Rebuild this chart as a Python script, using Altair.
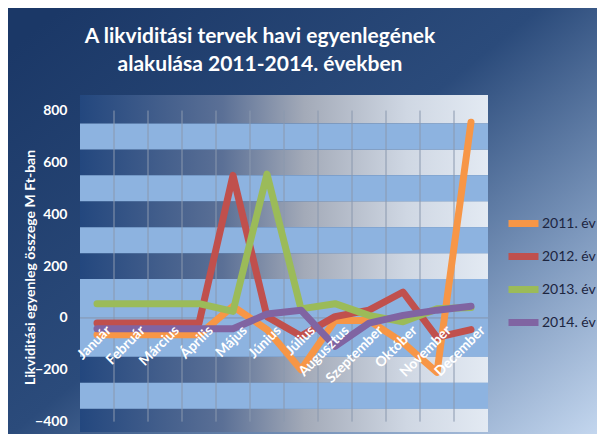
import altair as alt
import pandas as pd

months = ["Január", "Február", "Március", "Április", "Május", "Június",
          "Július", "Augusztus", "Szeptember", "Október", "November", "December"]
series_names = ["2011. év", "2012. év", "2013. év", "2014. év"]
y2011 = [-65, -65, -65, -65, 45, -45, -200, -10, -10, -95, -210, 755]
y2012 = [-20, -20, -20, -20, 550, 5, -70, 5, 30, 100, -75, -45]
y2013 = [55, 55, 55, 55, 25, 555, 35, 55, 10, -15, 35, 40]
y2014 = [-42, -42, -42, -42, -42, 15, 30, -110, -20, 10, 30, 45]
colors = ["#f79646", "#c0504d", "#9bbb59", "#8064a2"]
y_ticks = [-400, -200, 0, 200, 400, 600, 800]
title_lines = ["A likviditási tervek havi egyenlegének", "alakulása 2011-2014. években"]
y_title = "Likviditási  egyenleg összege M Ft-ban"
dark_lo = [750, 550, 350, 150, -250, -440]
dark_hi = [860, 650, 450, 250, -150, -350]
light_lo = [650, 450, 250, -150, -350]
light_hi = [750, 550, 350, 150, -250]

FONT = "Lato"
W, H = 408, 337
YDOM = [-440, 860]
XDOM = [-0.5, 11.5]

rows = []
for name, vals in zip(series_names, [y2011, y2012, y2013, y2014]):
    for i, (m, v) in enumerate(zip(months, vals)):
        rows.append({"series": name, "idx": i, "month": m, "value": v})
df = pd.DataFrame(rows)
mdf = pd.DataFrame({"idx": list(range(len(months))), "month": months, "zero": [0] * len(months)})
grid_df = pd.DataFrame({"b": [i + 0.5 for i in range(len(months) - 1)],
                        "top": [y_ticks[-1]] * (len(months) - 1),
                        "bot": [y_ticks[0]] * (len(months) - 1)})
dark_df = pd.DataFrame({"lo": dark_lo, "hi": dark_hi})
light_df = pd.DataFrame({"lo": light_lo, "hi": light_hi})
one = pd.DataFrame({"a": [0]})

xs = alt.Scale(domain=XDOM, nice=False, zero=False)
ys = alt.Scale(domain=YDOM, nice=False, zero=False)
yaxis = alt.Axis(values=y_ticks, title=y_title, zindex=5,
                 labelColor="white", labelFont=FONT, labelFontSize=14,
                 labelFontWeight="bold", labelPadding=13, tickSize=0,
                 domain=False, grid=False, titleColor="white", titleFont=FONT,
                 titleFontSize=14, titleFontWeight="bold", titleX=-50, titleY=172,
                 titleAngle=270, titleAlign="center", titleBaseline="middle")

bg = alt.Chart(one).mark_rect(
    fill=alt.Gradient(gradient="linear", x1=0, y1=0.1, x2=1, y2=1,
                      stops=[alt.GradientStop(offset=0, color="#1b3867"),
                             alt.GradientStop(offset=0.45, color="#2b4b7b"),
                             alt.GradientStop(offset=0.75, color="#7d98bd"),
                             alt.GradientStop(offset=1, color="#c3d6ee")])
).encode(x=alt.value(-72), x2=alt.value(517), y=alt.value(-87), y2=alt.value(339))

dark = alt.Chart(dark_df).mark_rect(
    fill=alt.Gradient(gradient="linear", x1=0, y1=0, x2=1, y2=0,
                      stops=[alt.GradientStop(offset=0, color="#23477e"),
                             alt.GradientStop(offset=0.35, color="#5b7096"),
                             alt.GradientStop(offset=0.55, color="#a3aab8"),
                             alt.GradientStop(offset=0.8, color="#cfd7e3"),
                             alt.GradientStop(offset=1, color="#e3eaf3")])
).encode(x=alt.value(0), x2=alt.value(W),
         y=alt.Y("hi:Q", scale=ys, axis=yaxis), y2="lo:Q")

light = alt.Chart(light_df).mark_rect(fill="#8db3e0").encode(
    x=alt.value(0), x2=alt.value(W),
    y=alt.Y("hi:Q", scale=ys, axis=yaxis), y2="lo:Q")

vgrid = alt.Chart(grid_df).mark_rule(color="#8a98ae", strokeWidth=1).encode(
    x=alt.X("b:Q", scale=xs, axis=None),
    y=alt.Y("top:Q", scale=ys, axis=yaxis), y2="bot:Q")

zero_rule = alt.Chart(one).mark_rule(color="#8494ad", strokeWidth=1).encode(
    x=alt.value(0), x2=alt.value(W), y=alt.Y("a:Q", scale=ys, axis=yaxis))

lines = alt.Chart(df).mark_line(strokeWidth=7, strokeCap="round", strokeJoin="round").encode(
    x=alt.X("idx:Q", scale=xs, axis=None),
    y=alt.Y("value:Q", scale=ys, axis=yaxis),
    color=alt.Color("series:N", scale=alt.Scale(domain=series_names, range=colors),
                    legend=alt.Legend(title=None, orient="none", legendX=425, legendY=110,
                                      symbolType="stroke", symbolSize=900,
                                      symbolStrokeWidth=7, labelFont=FONT,
                                      labelFontSize=14, labelColor="#1c2540",
                                      labelOffset=0, rowPadding=-2.5, padding=0)),
    order=alt.Order("idx:Q"),
    detail="series:N")

xlabels = alt.Chart(mdf).mark_text(
    angle=315, align="right", baseline="middle", dx=1, dy=16,
    color="white", font=FONT, fontSize=14, fontWeight="bold"
).encode(x=alt.X("idx:Q", scale=xs, axis=None),
         y=alt.Y("zero:Q", scale=ys, axis=yaxis), text="month:N")

title1 = alt.Chart(one).mark_text(
    align="center", baseline="alphabetic", color="white",
    font=FONT, fontSize=21, fontWeight="bold", text=title_lines[0]
).encode(x=alt.value(180), y=alt.value(-52))

title2 = alt.Chart(one).mark_text(
    align="center", baseline="alphabetic", color="white",
    font=FONT, fontSize=21, fontWeight="bold", text=title_lines[1]
).encode(x=alt.value(180), y=alt.value(-24))

chart = alt.layer(bg, dark, light, vgrid, zero_rule, lines, xlabels, title1, title2).properties(
    width=W, height=H,
    autosize=alt.AutoSizeParams(type="none"),
    padding={"left": 72, "top": 87, "right": 109, "bottom": 2},
    background="#23416f",
).configure_view(stroke=None)

chart.save("out.html", embed_options={"renderer": "svg", "actions": False})
